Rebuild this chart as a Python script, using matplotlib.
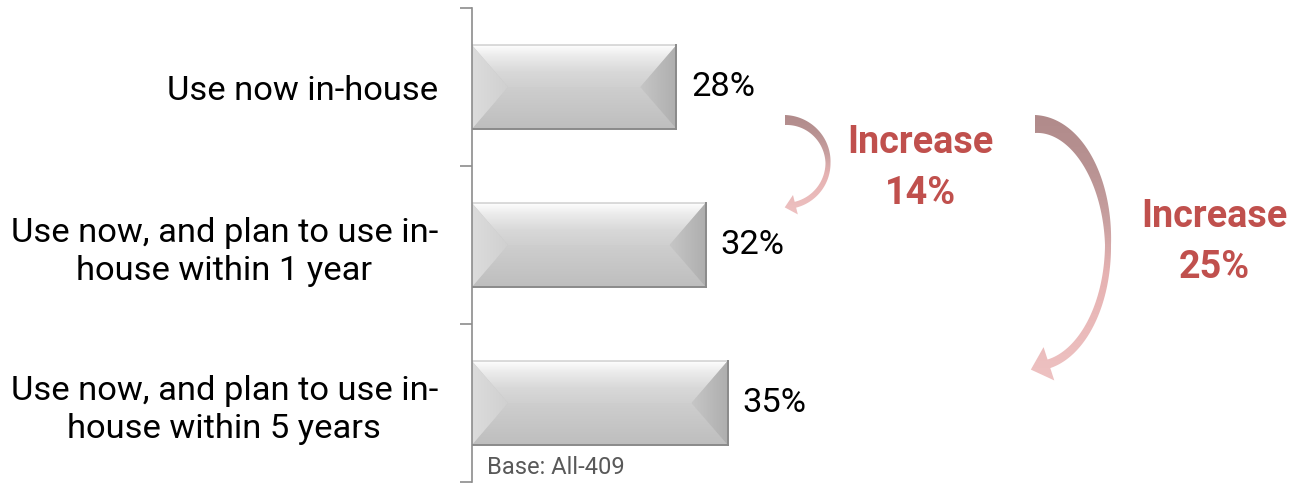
import numpy as np
import matplotlib
matplotlib.use("Agg")
import matplotlib.pyplot as plt
from matplotlib.patches import Polygon

# ---- data ----
categories = ["Use now in-house",
              "Use now, and plan to use in-\nhouse within 1 year",
              "Use now, and plan to use in-\nhouse within 5 years"]
values = [28, 32, 35]
increase_labels = ["Increase\n14%", "Increase\n25%"]
base_note = "Base: All-409"

FONT = ["Roboto", "DejaVu Sans"]
RED = "#C0504D"
W, H = 1297, 484

fig = plt.figure(figsize=(W / 100, H / 100), dpi=100)
renderer = fig.canvas.get_renderer()


def fit_size(s, target_px, **kw):
    t = fig.text(0, 0, s, fontsize=20, family=FONT, **kw)
    w = t.get_window_extent(renderer).width
    t.remove()
    return 20 * target_px / w


main_fs = fit_size("Use now in-house", 270)
inc_fs = fit_size("Increase", 146, weight="bold")
base_fs = fit_size(base_note, 138)

# main axes: x from px 472 to 1290, y from px 8 to 482
px_per_unit = 7.3
ax_w = 1290 - 472
ax = fig.add_axes([472 / W, (H - 482) / H, ax_w / W, 474 / H])
xmax = ax_w / px_per_unit
bar_h = 0.53
ypos = np.arange(len(categories))

bars = ax.barh(ypos, values, height=bar_h, color="#C8C8C8",
               edgecolor="none", zorder=2)


def grad_img(colors, n=64, horizontal=False, stops=None):
    if stops is None:
        stops = np.linspace(0, 1, len(colors))
    cols = np.array(colors, dtype=float) / 255.0
    s = np.linspace(0, 1, n)
    arr = np.stack([np.interp(s, stops, cols[:, k]) for k in range(3)], axis=-1)
    if horizontal:
        return arr[np.newaxis, :, :]
    return arr[:, np.newaxis, :]


d = 36 / px_per_unit
for i, v in zip(ypos, values):
    top, bot, mid = i - bar_h / 2, i + bar_h / 2, i
    pieces = [
        ([(0, top), (v, top), (v - d, mid), (d, mid)],
         grad_img([(253, 253, 253), (236, 236, 236), (216, 216, 216), (208, 208, 208)],
                  stops=[0, 0.25, 0.65, 1]), (0, v, mid, top)),
        ([(d, mid), (v - d, mid), (v, bot), (0, bot)],
         grad_img([(206, 206, 206), (198, 198, 198), (190, 190, 190)]), (0, v, bot, mid)),
        ([(0, top), (d, mid), (0, bot)],
         grad_img([(220, 220, 220), (208, 208, 208)], horizontal=True), (0, d, bot, top)),
        ([(v, top), (v - d, mid), (v, bot)],
         grad_img([(198, 198, 198), (174, 174, 174)], horizontal=True), (v - d, v, bot, top)),
    ]
    for pts, img, ext in pieces:
        poly = Polygon(pts, closed=True, transform=ax.transData)
        im = ax.imshow(img, extent=ext, origin="upper", aspect="auto",
                       interpolation="bilinear", zorder=3)
        im.set_clip_path(poly)
    ax.plot([0, v], [top, top], color="#D4D4D4", lw=1.2, zorder=4)
    ax.plot([0, v], [bot, bot], color="#8A8A8A", lw=1.4, zorder=4)
    ax.plot([v, v], [top, bot], color="#8A8A8A", lw=1.4, zorder=4)
    ax.annotate(f"{v}%", xy=(v, i), xytext=(15 * 0.72, 0),
                textcoords="offset points", ha="left", va="center",
                fontsize=main_fs, family=FONT, color="black")

ax.set_xlim(0, xmax)
ax.set_ylim(len(categories) - 0.5, -0.5)
for s in ["top", "right", "bottom"]:
    ax.spines[s].set_visible(False)
ax.spines["left"].set_color("#8C8C8C")
ax.spines["left"].set_linewidth(1.2)
ax.spines["left"].set_zorder(5)
ax.set_xticks([])
ax.set_yticks(np.arange(len(categories) + 1) - 0.5)
ax.set_yticklabels([])
ax.tick_params(axis="y", which="major", length=12 * 0.72, width=1.2,
               color="#8C8C8C", direction="out")
ax.set_yticks(ypos, minor=True)
ax.set_yticklabels(categories, minor=True, fontsize=main_fs, family=FONT,
                   multialignment="center", linespacing=1.24)
ax.tick_params(axis="y", which="minor", length=0, pad=34 * 0.72)
ax.patch.set_alpha(0)

# overlay axes in pixel coordinates for annotations
ov = fig.add_axes([0, 0, 1, 1], zorder=5)
ov.set_xlim(0, W)
ov.set_ylim(H, 0)
ov.axis("off")
ov.patch.set_alpha(0)


def curved_arrow(cx, cy, rx, ry, t_end_deg, w0, wm, w1, hw, hl):
    t0, t1 = -np.pi / 2, np.radians(t_end_deg)
    t = np.linspace(t0, t1, 300)
    x = cx + rx * np.cos(t)
    y = cy + ry * np.sin(t)
    dx, dy = -rx * np.sin(t), ry * np.cos(t)
    n = np.hypot(dx, dy)
    dx, dy = dx / n, dy / n
    nx, ny = dy, -dx
    w = np.interp(t, [t0, 0, t1], [w0, wm, w1])
    outer = np.column_stack([x + nx * w / 2, y + ny * w / 2])
    inner = np.column_stack([x - nx * w / 2, y - ny * w / 2])
    P = np.array([x[-1], y[-1]])
    T = np.array([dx[-1], dy[-1]])
    N = np.array([nx[-1], ny[-1]])
    head = np.array([P + N * hw, P + T * hl, P - N * hw])
    pts = np.vstack([outer, head, inner[::-1]])
    poly = Polygon(pts, closed=True, transform=ov.transData)
    img = grad_img([(176, 138, 138), (184, 146, 146), (200, 160, 160),
                    (230, 178, 178), (234, 186, 186), (238, 194, 194)], n=128)
    ext = (pts[:, 0].min() - 2, pts[:, 0].max() + 2,
           pts[:, 1].max() + 2, pts[:, 1].min() - 2)
    im = ov.imshow(img, extent=ext, origin="upper", aspect="auto",
                   interpolation="bilinear", zorder=2)
    im.set_clip_path(poly)


curved_arrow(785, 163, 43, 43, 76, 10, 5, 6, 10, 11)
curved_arrow(1035, 245, 73, 121, 79, 18, 6, 9, 17.5, 19)

ov.text(920, 168, increase_labels[0], ha="center", va="center",
        fontsize=inc_fs, family=FONT, weight="bold", color=RED,
        linespacing=1.45)
ov.text(1214, 242, increase_labels[1], ha="center", va="center",
        fontsize=inc_fs, family=FONT, weight="bold", color=RED,
        linespacing=1.45)
ov.text(487, 468, base_note, ha="left", va="center", fontsize=base_fs,
        family=FONT, color="#595959")
ov.set_xlim(0, W)
ov.set_ylim(H, 0)

fig.savefig("out.png", dpi=100)
